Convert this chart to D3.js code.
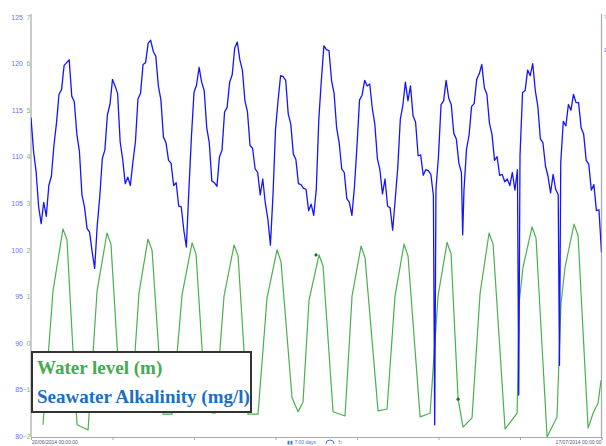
<!DOCTYPE html>
<html lang="en">
<head>
<meta charset="utf-8">
<style>
  body { margin: 0; background: #fff; }
  svg { display: block; background: #fff; }
  .tick text { font: 7px "Liberation Sans", Arial, sans-serif; }
  .legend-text { font: bold 19px "Liberation Serif", "Times New Roman", serif; }
  .foot { font: 5px "Liberation Sans", Arial, sans-serif; }
</style>
<script src="https://d3js.org/d3.v7.min.js"></script>
<title>Water level and alkalinity</title>
</head>
<body>
<div id="chart"></div>
<script>
// period shown on the time axis
var startDate = new Date(2014, 5, 20, 0, 0, 0);
var endDate = new Date(2014, 6, 18, 0, 0, 0);
var stepHours = 3;

// seawater alkalinity (mg/l), one reading every 3 hours
var alkValues = [
  114.2, 110.6, 108.4, 104.6, 102.8, 105.1, 103.6, 106.9, 107.9, 111.2,
  113.6, 116.7, 117.2, 119.8, 120.1, 120.4, 116.5, 115.9, 112.4, 110.6,
  105.9, 104.6, 102.3, 101.9, 99.8, 98.0, 102.6, 105.7, 109.8, 110.7,
  114.5, 115.6, 118.3, 117.6, 116.8, 111.6, 109.7, 107.1, 107.8, 106.9,
  109.4, 111.6, 116.2, 116.8, 119.9, 120.1, 122.2, 122.5, 121.3, 120.8,
  117.6, 116.1, 112.1, 111.5, 109.6, 109.3, 106.9, 107.2, 104.7, 104.6,
  102.1, 100.3, 106.5, 112.2, 116.9, 117.7, 119.6, 118.0, 117.1, 113.1,
  111.5, 107.4, 107.2, 106.8, 110.0, 110.7, 114.8, 115.3, 118.0, 118.8,
  121.7, 122.3, 120.4, 119.3, 116.0, 114.8, 111.2, 110.9, 108.7, 108.3,
  105.9, 107.6, 105.0, 103.3, 100.5, 105.8, 112.9, 116.0, 118.7, 118.6,
  118.2, 114.6, 113.5, 110.3, 109.7, 107.1, 107.0, 106.6, 106.5, 104.2,
  104.9, 103.7, 106.4, 114.0, 118.2, 121.9, 121.5, 121.4, 118.2, 116.8,
  113.1, 111.5, 108.7, 108.3, 105.5, 105.1, 103.7, 106.8, 111.2, 116.1,
  116.6, 118.2, 117.6, 117.8, 115.2, 113.5, 109.8, 108.6, 106.0, 107.6,
  104.7, 104.5, 102.1, 105.4, 108.8, 114.0, 115.5, 118.0, 116.0, 117.6,
  114.4, 113.7, 110.1, 110.2, 108.0, 108.6, 108.5, 108.1, 105.8, 106.5,
  110.1, 115.6, 116.0, 118.2, 116.3, 115.6, 112.5, 111.9, 109.3, 108.3,
  106.4, 110.8, 112.3, 115.4, 115.7, 118.3, 118.9, 119.9, 117.4, 116.7,
  113.6, 112.4, 109.6, 110.0, 108.0, 108.1, 107.3, 107.6, 106.9, 108.3,
  106.4, 108.6, 110.1, 116.9, 117.1, 119.3, 118.7, 120.0, 117.1, 115.4,
  111.9, 111.5, 109.0, 107.9, 106.1, 108.1, 106.5, 105.9, 109.4, 113.8,
  113.3, 115.6, 115.0, 116.7, 115.8, 115.8, 113.1, 112.4, 109.6, 109.2,
  106.4, 107.0, 104.2, 104.3, 99.7
];

// short sensor drops between the regular readings
var dipHours = [475.5, 508.5, 574.5, 622.5];
var dipValues = [81.2, 101.6, 84.4, 87.6];

// water level (m): hours since start, value
var levelHours = [
  14.1, 25.9, 37.7, 42.4, 54.2, 67.2,
  77.8, 89.5, 94.2, 106.0, 117.8,
  127.2, 137.8, 142.6, 155.5, 166.1,
  177.9, 189.7, 194.4, 206.2, 216.8,
  227.4, 239.2, 243.9, 255.6, 267.4,
  278.0, 289.8, 294.5, 307.5, 314.6, 320.4,
  327.5, 339.3, 344.0, 355.8, 369.9,
  378.2, 388.8, 393.5, 408.8, 419.4,
  428.8, 439.4, 444.1, 458.3, 470.1,
  479.5, 490.1, 494.8, 503.1, 508.9, 519.5,
  529.0, 539.6, 544.3, 558.4, 572.6,
  574.9, 579.6, 590.2, 594.9, 607.9, 619.6,
  624.3, 629.1, 639.7, 644.4, 656.2, 662.1, 668.0, 671.5
];
var levelValues = [
  -1.76, 1.11, 2.45, 2.21, -1.76, -1.87,
  1.11, 2.36, 2.12, -1.44, -1.48,
  1.07, 2.23, 1.99, -1.53, -1.53,
  1.03, 2.15, 1.91, -1.48, -1.51,
  1.01, 2.10, 1.87, -1.53, -1.53,
  0.96, 2.00, 1.74, -1.18, -1.48, -1.27,
  0.92, 1.89, 1.65, -1.48, -1.57,
  1.01, 2.08, 1.82, -1.46, -1.42,
  1.01, 2.12, 1.87, -1.59, -1.51,
  1.01, 2.16, 1.91, -1.21, -1.81, -1.61,
  1.07, 2.36, 2.12, -1.85, -1.51,
  0.85, 1.63, 2.49, 2.25, -2.02, -1.59,
  0.85, 1.63, 2.55, 2.30, -1.83, -1.51, -1.29, -0.80
];
// the two marked level points
var markHours = [335.7, 503.1];
var markValues = [1.89, -1.21];

// axis ticks
var alkTicks = [80, 85, 90, 95, 100, 105, 110, 115, 120, 125];
var levelTicks = [-2, -1, 0, 1, 2, 3, 4, 5, 6, 7];
var dayTicks = [0, 4, 8, 12, 16, 20, 24, 28];
var startLabel = "20/06/2014 00:00:00";
var endLabel = "17/07/2014 00:00:00";
var spanLabel = "7.00 days";
var legendNames = ["Water level (m)", "Seawater Alkalinity (mg/l)"];

var width = 606, height = 446;
var plotLeft = 31, plotRight = 601.5, plotTop = 17, plotBottom = 436;

function hoursToDate(h) {
  return new Date(startDate.getTime() + h * 3600 * 1000);
}

var svg = d3.select("#chart").append("svg")
  .attr("width", width)
  .attr("height", height);

var x = d3.scaleTime().domain([startDate, endDate]).range([plotLeft, plotRight]);
var yAlk = d3.scaleLinear().domain([80, 125]).range([plotBottom, plotTop]);
var yLev = d3.scaleLinear().domain([-2, 7]).range([plotBottom, plotTop]);

// build the series
var alkData = alkValues.map(function(v, i) {
  return { t: hoursToDate(i * stepHours), v: v };
});
dipHours.forEach(function(h, i) {
  alkData.push({ t: hoursToDate(h), v: dipValues[i] });
});
alkData.sort(function(a, b) { return a.t - b.t; });

var levelData = levelHours.map(function(h, i) {
  return { t: hoursToDate(h), v: levelValues[i] };
});

svg.append("clipPath").attr("id", "plot-clip")
  .append("rect")
  .attr("x", plotLeft).attr("y", 0)
  .attr("width", plotRight - plotLeft).attr("height", plotBottom + 1);

// axis lines (grey frame left / right / bottom)
var axisColor = "#a8a8a8";
svg.append("line")
  .attr("x1", plotLeft).attr("x2", plotLeft).attr("y1", 14).attr("y2", plotBottom + 1)
  .attr("stroke", axisColor).attr("stroke-width", 1.2);
svg.append("line")
  .attr("x1", plotRight).attr("x2", plotRight).attr("y1", 14).attr("y2", plotBottom + 1)
  .attr("stroke", axisColor).attr("stroke-width", 1.2);

// bottom axis
var xAxis = d3.axisBottom(x)
  .tickValues(dayTicks.map(function(d) { return hoursToDate(d * 24); }))
  .tickSize(3)
  .tickFormat("");
var gx = svg.append("g")
  .attr("transform", "translate(0," + (plotBottom + 1) + ")")
  .call(xAxis);
gx.selectAll("path, line").attr("stroke", axisColor);

// left axes: alkalinity labels then water level labels
var gAlk = svg.append("g")
  .attr("transform", "translate(23,0)")
  .call(d3.axisLeft(yAlk).tickValues(alkTicks).tickSize(0).tickPadding(0));
gAlk.select(".domain").remove();
gAlk.selectAll("text").attr("fill", "#6f6ff5");

var gLev = svg.append("g")
  .attr("transform", "translate(30.5,0)")
  .call(d3.axisLeft(yLev).tickValues(levelTicks).tickSize(0).tickPadding(0));
gLev.select(".domain").remove();
gLev.selectAll("text").attr("fill", "#72bf72");

// right side labels (cut off at the edge)
svg.append("text").attr("x", plotRight + 2).attr("y", yLev(7) + 2)
  .attr("fill", "#72bf72").style("font", "6px sans-serif").text("7");
svg.append("text").attr("x", plotRight + 2).attr("y", 52)
  .attr("fill", "#6f6ff5").style("font", "6px sans-serif").text("1");

// lines
var levelLine = d3.line()
  .x(function(d) { return x(d.t); })
  .y(function(d) { return yLev(d.v); });
var alkLine = d3.line()
  .x(function(d) { return x(d.t); })
  .y(function(d) { return yAlk(d.v); });

var plot = svg.append("g").attr("clip-path", "url(#plot-clip)");

plot.append("path")
  .datum(levelData)
  .attr("d", levelLine)
  .attr("fill", "none")
  .attr("stroke", "#4caf50")
  .attr("stroke-width", 1.2)
  .attr("stroke-linejoin", "round");

plot.selectAll("circle.mark")
  .data(markHours)
  .enter().append("circle")
  .attr("class", "mark")
  .attr("cx", function(h) { return x(hoursToDate(h)); })
  .attr("cy", function(h, i) { return yLev(markValues[i]); })
  .attr("r", 1.6)
  .attr("fill", "#1f6b1f");

plot.append("path")
  .datum(alkData)
  .attr("d", alkLine)
  .attr("fill", "none")
  .attr("stroke", "#1414ff")
  .attr("stroke-width", 1.3)
  .attr("stroke-linejoin", "round");

// footer texts
svg.append("text").attr("class", "foot")
  .attr("x", plotLeft + 1).attr("y", 444)
  .attr("fill", "#55607a").text(startLabel);
svg.append("text").attr("class", "foot")
  .attr("x", plotRight).attr("y", 444)
  .attr("text-anchor", "end")
  .attr("fill", "#55607a").text(endLabel);

var mid = svg.append("g").attr("fill", "#4a78cc");
mid.append("text").attr("class", "foot")
  .attr("x", 287).attr("y", 444).text("\u25AE\u25AE " + spanLabel);
mid.append("path")
  .attr("d", "M326,444 A4,4 0 0 1 334,444")
  .attr("fill", "none").attr("stroke", "#4a78cc").attr("stroke-width", 1);
mid.append("text").attr("class", "foot")
  .attr("x", 338).attr("y", 444).text("\u21BB");

// legend box
var legend = svg.append("g");
legend.append("rect")
  .attr("x", 32).attr("y", 352)
  .attr("width", 219).attr("height", 60)
  .attr("fill", "#fff")
  .attr("stroke", "#333")
  .attr("stroke-width", 2);
legend.append("text").attr("class", "legend-text")
  .attr("x", 37).attr("y", 374)
  .attr("fill", "#45ab4f").text(legendNames[0]);
legend.append("text").attr("class", "legend-text")
  .attr("x", 37).attr("y", 403)
  .attr("fill", "#1b6fc2").text(legendNames[1]);
</script>
</body>
</html>
